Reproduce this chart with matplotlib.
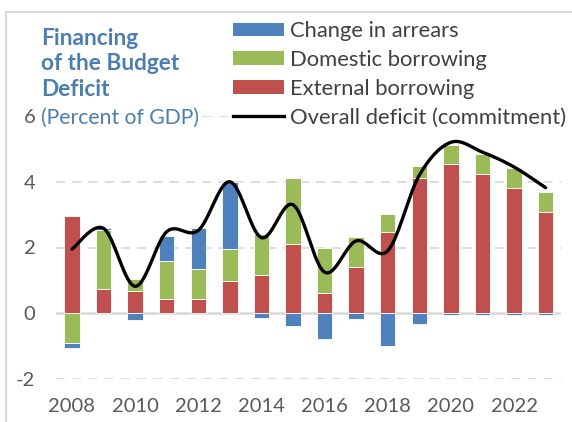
import numpy as np
import matplotlib
matplotlib.use("Agg")
import matplotlib.pyplot as plt
from matplotlib.patches import Rectangle, Patch
from matplotlib.lines import Line2D

years = list(range(2008, 2024))
external = [2.96, 0.73, 0.68, 0.44, 0.44, 0.98, 1.15, 2.12, 0.62, 1.40, 2.48, 4.11, 4.54, 4.23, 3.81, 3.09]
domestic = [-0.89, 1.80, 0.36, 1.15, 0.90, 0.96, 1.26, 1.99, 1.38, 0.91, 0.54, 0.36, 0.59, 0.60, 0.60, 0.60]
arrears = [-0.17, 0.07, -0.21, 0.77, 1.26, 2.05, -0.15, -0.40, -0.77, -0.16, -1.00, -0.34, -0.05, -0.05, -0.05, -0.05]
overall = [1.95, 2.58, 0.82, 2.48, 2.52, 4.00, 2.30, 3.30, 1.25, 2.20, 1.90, 4.20, 5.20, 4.90, 4.45, 3.82]
xtick_years = [2008, 2010, 2012, 2014, 2016, 2018, 2020, 2022]
yticks = [-2, 0, 2, 4, 6]

series = [("External borrowing", external, "#c0504d"),
          ("Domestic borrowing", domestic, "#9bbb59"),
          ("Change in arrears", arrears, "#4f81bd")]

plt.rcParams['font.family'] = ['Lato', 'DejaVu Sans']
W, H = 572, 422
fig = plt.figure(figsize=(W / 100, H / 100), dpi=100)
fig.patches.append(Rectangle((6 / W, -0.1), 1.2, (H - 12) / H + 0.1, transform=fig.transFigure,
                             fill=False, edgecolor="#d9d9d9", linewidth=1.5))

ax = fig.add_axes([56.2 / W, (H - 379) / H, (561.4 - 56.2) / W, (379 - 116) / H])
ax.set_xlim(2007.5, 2023.5)
ax.set_ylim(-2, 6)
for s in ax.spines.values():
    s.set_visible(False)

for g in [-2, 2, 4, 6]:
    ax.axhline(g, color="#d9d9d9", linewidth=1.3, linestyle=(0, (5, 4)), zorder=0)
ax.axhline(0, color="#d9d9d9", linewidth=1.8, zorder=1)

x = np.array(years, dtype=float)
pos = np.zeros(len(years))
neg = np.zeros(len(years))
for name, vals, col in series:
    v = np.array(vals)
    bottoms = np.where(v >= 0, pos, neg)
    ax.bar(x, v, width=0.49, bottom=bottoms, color=col, edgecolor="white", linewidth=0.6, zorder=2)
    pos = pos + np.where(v >= 0, v, 0)
    neg = neg + np.where(v < 0, v, 0)

# smoothed line (Excel-style Catmull-Rom bezier)
yv = np.array(overall)
P = np.column_stack([x, yv])
curve = []
t = np.linspace(0, 1, 30)
n = len(P)
for i in range(n - 1):
    p0 = P[i - 1] if i > 0 else P[i]
    p1 = P[i]
    p2 = P[i + 1]
    p3 = P[i + 2] if i + 2 < n else P[i + 1]
    c1 = p1 + (p2 - p0) / 6
    c2 = p2 - (p3 - p1) / 6
    seg = ((1 - t) ** 3)[:, None] * p1 + (3 * (1 - t) ** 2 * t)[:, None] * c1 + \
          (3 * (1 - t) * t ** 2)[:, None] * c2 + (t ** 3)[:, None] * p2
    curve.append(seg)
curve = np.vstack(curve)
ax.plot(curve[:, 0], curve[:, 1], color="black", linewidth=2.4, zorder=4, solid_capstyle='round')

ax.set_xticks(xtick_years)
ax.set_xticklabels([str(y) for y in xtick_years])
ax.set_yticks(yticks)
ax.set_yticklabels([str(v) for v in yticks])
ax.tick_params(axis='both', length=0, colors="#595959", labelsize=14.5)
ax.tick_params(axis='y', pad=15)
ax.tick_params(axis='x', pad=14)

tc = "#4a7db0"
fig.text(41 / W, 1 - 64 / H, "Financing\nof the Budget\nDeficit", fontsize=16.3, fontweight='bold',
         color=tc, va='center', ha='left', linespacing=1.28)
fig.text(41 / W, 1 - 118 / H, "(Percent of GDP)", fontsize=15.2, color=tc, va='center', ha='left',
         bbox=dict(facecolor='white', edgecolor='none', pad=1))

leg_handles = [Patch(facecolor="#4f81bd", edgecolor='none', label="Change in arrears"),
               Patch(facecolor="#9bbb59", edgecolor='none', label="Domestic borrowing"),
               Patch(facecolor="#c0504d", edgecolor='none', label="External borrowing"),
               Line2D([0], [0], color="black", linewidth=2.4, label="Overall deficit (commitment)")]
leg = fig.legend(handles=leg_handles, loc='upper left', bbox_to_anchor=(231 / W, 1 - 19 / H),
                 frameon=True, fontsize=15.8, handlelength=2.3, handleheight=0.58,
                 handletextpad=0.28, labelspacing=0.4, borderpad=0.1, borderaxespad=0)
leg.get_frame().set_facecolor('white')
leg.get_frame().set_edgecolor('none')
for txt in leg.get_texts():
    txt.set_color("#404040")

fig.savefig("out.png", dpi=100)
